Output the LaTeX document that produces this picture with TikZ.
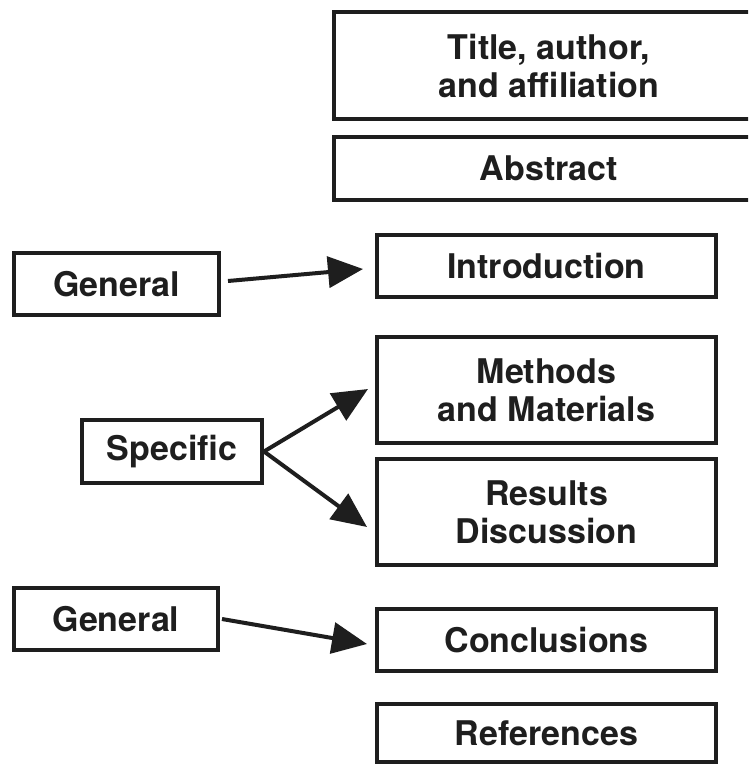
\documentclass[tikz,border=0pt]{standalone}
\usepackage{fontspec}
\setmainfont{TeX Gyre Heros}
\usetikzlibrary{arrows.meta}
\definecolor{ink}{HTML}{1E1E1E}
\tikzset{
  box/.style={draw=ink, line width=4pt, rectangle, inner sep=0pt, align=center,
    text=ink, font=\fontsize{34}{38}\selectfont\bfseries},
  conn/.style={draw=ink, line width=4pt, -{Triangle[length=35pt,width=31pt]}}
}
\begin{document}
\begin{tikzpicture}[x=1pt,y=-1pt]
\useasboundingbox (0,0) rectangle (748,767);
\clip (0,0) rectangle (748,767);
\fill[white] (0,0) rectangle (748,767);
% right column
\node[box, minimum width=431pt, minimum height=107pt] (title) at (549,65.5) {Title, author,\\and affiliation};
\node[box, minimum width=431pt, minimum height=63pt] (abstract) at (549,168.5) {Abstract};
\node[box, minimum width=339pt, minimum height=62pt] (intro) at (546.5,266) {Introduction};
\node[box, minimum width=339pt, minimum height=106pt] (methods) at (546.5,390) {Methods\\and Materials};
\node[box, minimum width=339pt, minimum height=106pt] (results) at (546.5,512) {Results\\Discussion};
\node[box, minimum width=339pt, minimum height=62pt] (concl) at (546.5,640) {Conclusions};
\node[box, minimum width=339pt, minimum height=58pt] (refs) at (546.5,733) {References};
% left column
\node[box, minimum width=205pt, minimum height=62pt] (gen1) at (116.5,284) {General};
\node[box, minimum width=180pt, minimum height=63pt] (spec) at (172,451.5) {Specific};
\node[box, minimum width=204pt, minimum height=62pt] (gen2) at (116,619) {General};
% connectors
\draw[conn] ([xshift=7pt,yshift=3pt]gen1.east) -- ([xshift=-12pt,yshift=-3pt]intro.west);
\draw[conn] (spec.east) -- ([xshift=-7pt,yshift=1pt]methods.west);
\draw[conn] (spec.east) -- ([xshift=-8pt,yshift=-15pt]results.west);
\draw[conn] ([xshift=2pt]gen2.east) -- ([xshift=-8pt,yshift=-4pt]concl.west);
\end{tikzpicture}
\end{document}
